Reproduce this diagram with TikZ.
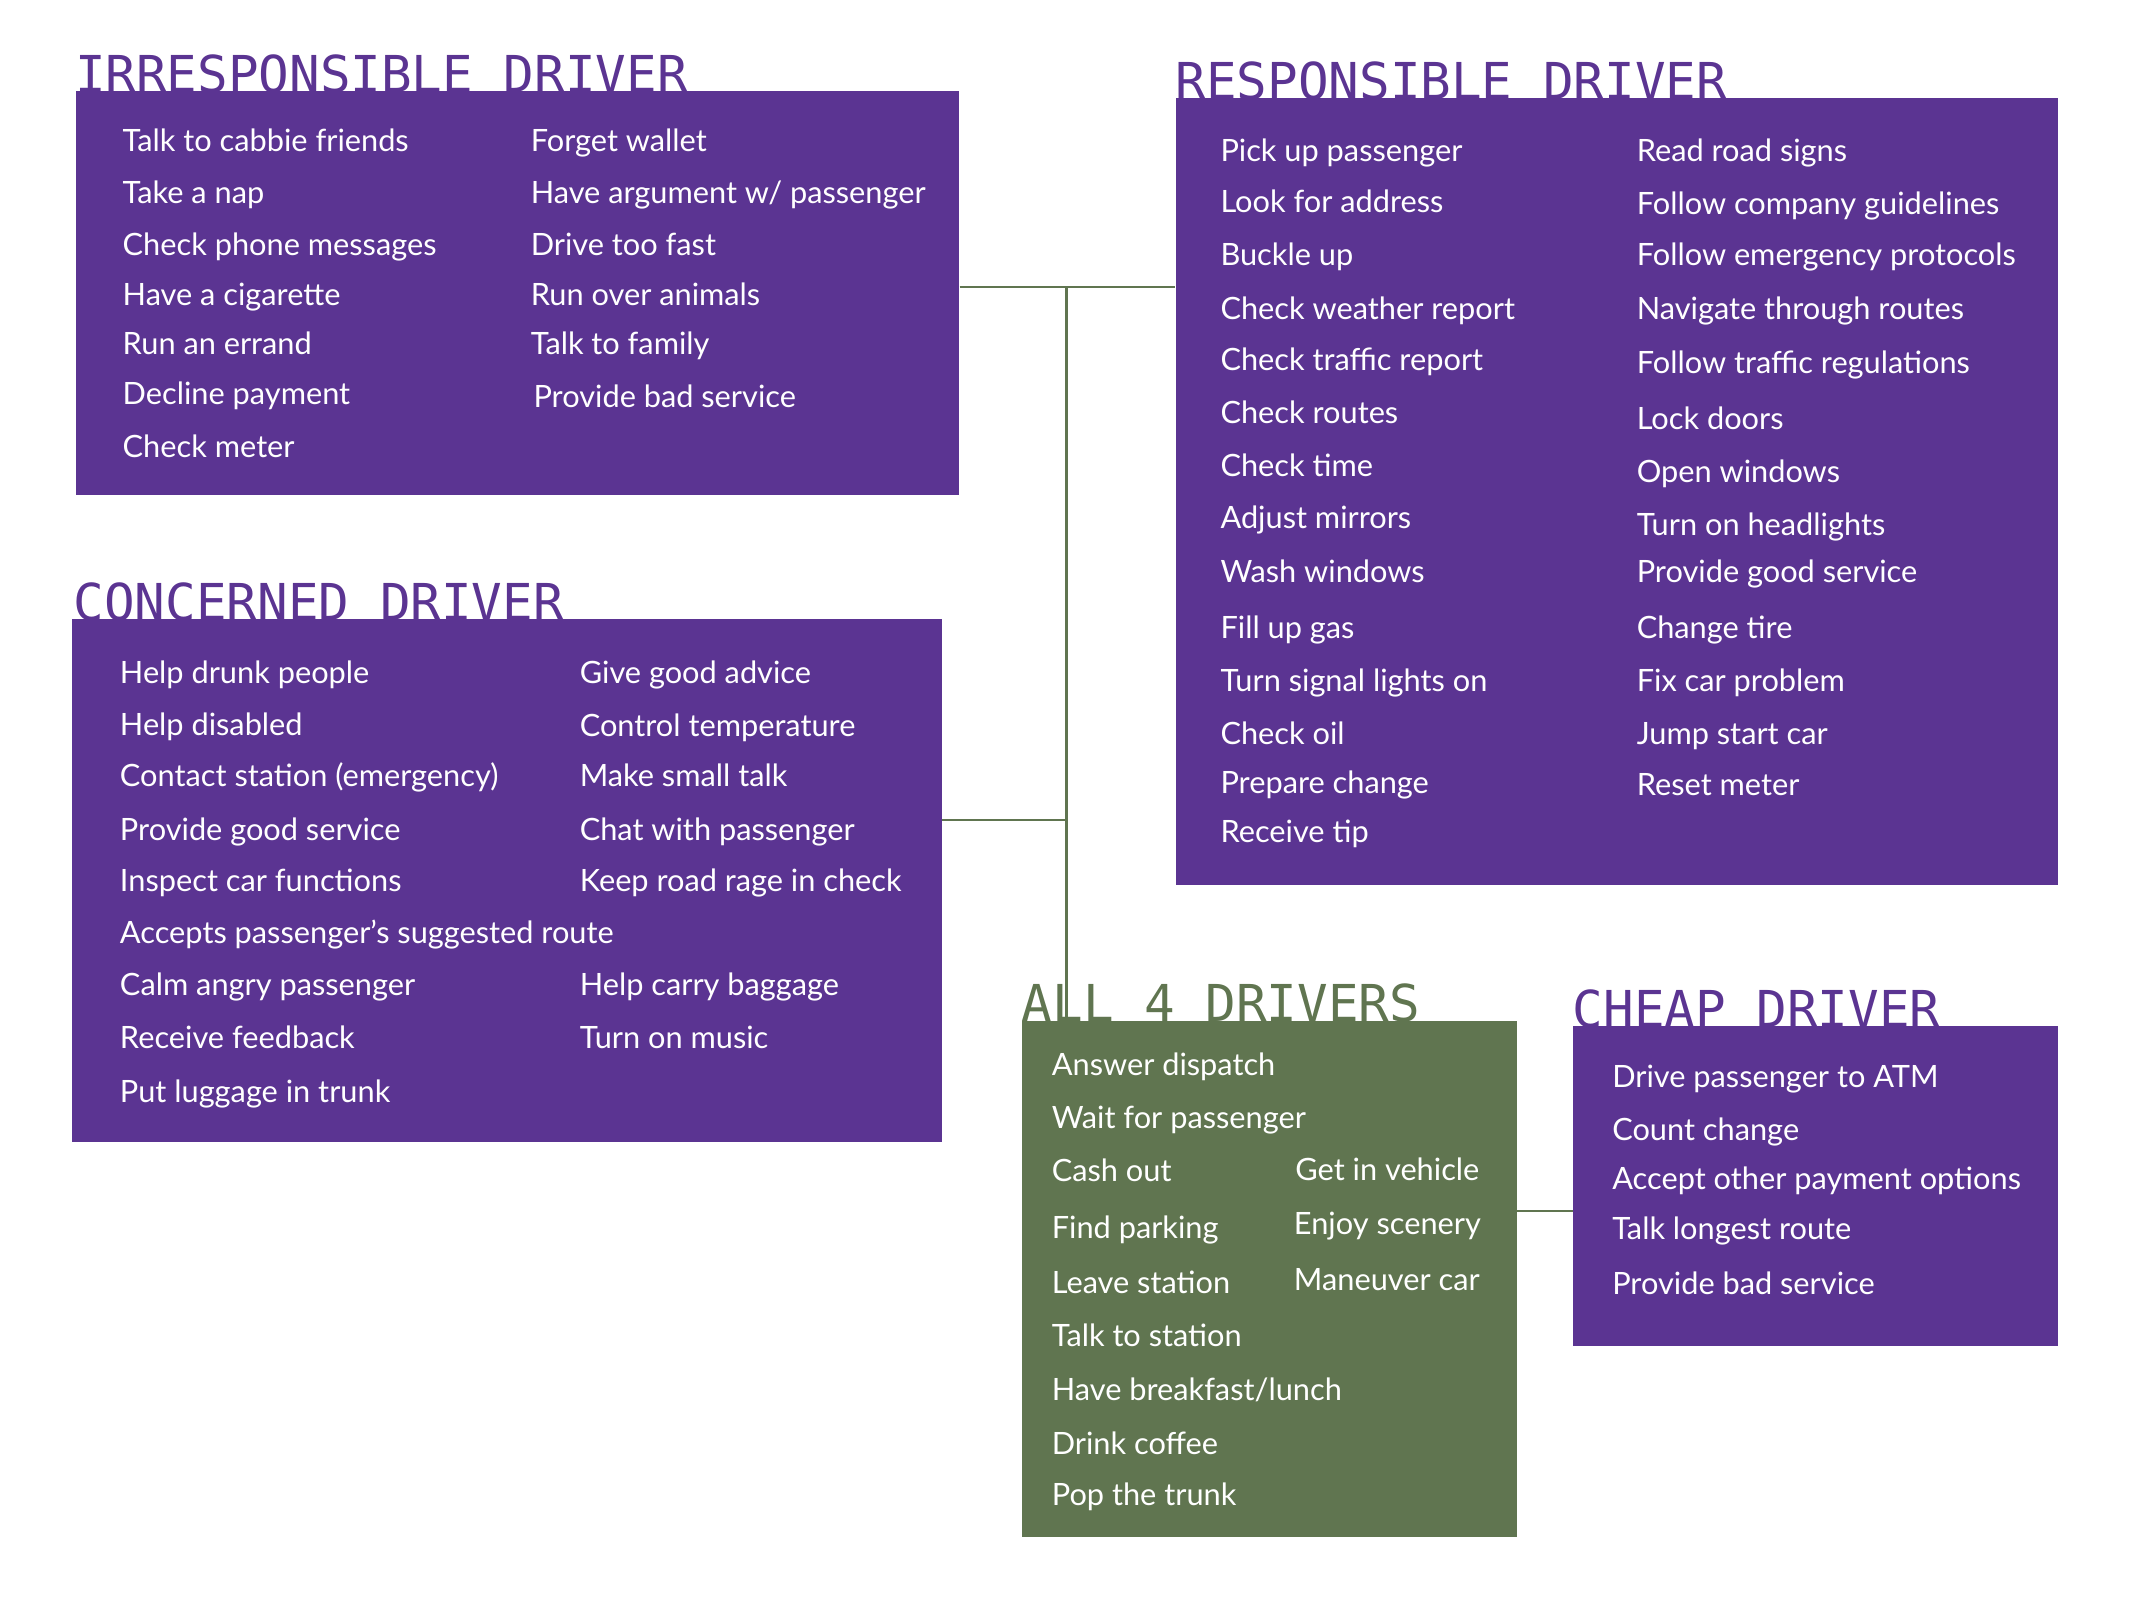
\documentclass[tikz,border=0pt]{standalone}
\usepackage{fontspec}
\setmainfont{Lato}
\newfontfamily\titlefont{DejaVu Sans Mono}
\definecolor{purp}{HTML}{5B3492}
\definecolor{grn}{HTML}{607550}
\tikzset{
  pbox/.style={fill=purp, draw=none, anchor=north west, inner sep=0pt},
  gbox/.style={fill=grn, draw=none, anchor=north west, inner sep=0pt},
  ttl/.style={anchor=base west, inner sep=0pt, font=\titlefont\fontsize{37.4}{38}\selectfont},
  txt/.style={anchor=base west, inner sep=0pt, text=white, font=\fontsize{22.6}{24}\selectfont},
  conn/.style={draw=grn, line width=1.6pt}
}
\newcommand{\T}[4]{\node[txt] (#1) at (#2,#3+7.5) {#4};}
\begin{document}
\begin{tikzpicture}[x=1pt,y=-1pt]
\useasboundingbox (0,0) rectangle (1568,1176);
% boxes
\node[pbox, minimum width=649pt, minimum height=297pt] (irr) at (56,67) {};
\node[pbox, minimum width=649pt, minimum height=578pt] (resp) at (864,72) {};
\node[pbox, minimum width=639pt, minimum height=384pt] (conc) at (53,455) {};
\node[gbox, minimum width=364pt, minimum height=380pt] (all) at (751,750) {};
\node[pbox, minimum width=357pt, minimum height=235pt] (cheap) at (1156,754) {};
% titles
\node[ttl, text=purp] (tirr) at (55,68) {IRRESPONSIBLE DRIVER};
\node[ttl, text=purp] (tresp) at (864,73) {RESPONSIBLE DRIVER};
\node[ttl, text=purp] (tconc) at (54,456) {CONCERNED DRIVER};
\node[ttl, text=grn] (tall) at (751,751) {ALL 4 DRIVERS};
\node[ttl, text=purp] (tcheap) at (1156,755) {CHEAP DRIVER};
% connectors
\coordinate (j1) at (784,211);
\coordinate (j2) at (784,603);
\coordinate (j3) at (1135,890);
\draw[conn] (irr.east |- j1) -- (resp.west |- j1);
\draw[conn] (j1) -- (all.north -| j1);
\draw[conn] (conc.east |- j2) -- (j2);
\draw[conn] (all.east |- j3) -- (cheap.west |- j3);
% irresponsible
\T{a1}{90}{104}{Talk to cabbie friends}
\T{a2}{90}{142}{Take a nap}
\T{a3}{90}{180}{Check phone messages}
\T{a4}{90}{217}{Have a cigarette}
\T{a5}{90}{253}{Run an errand}
\T{a6}{90}{290}{Decline payment}
\T{a7}{90}{329}{Check meter}
\T{b1}{390}{104}{Forget wallet}
\T{b2}{390}{142}{Have argument w/ passenger}
\T{b3}{390}{180}{Drive too fast}
\T{b4}{390}{217}{Run over animals}
\T{b5}{390}{253}{Talk to family}
\T{b6}{392}{292}{Provide bad service}
% responsible
\T{c1}{897}{111}{Pick up passenger}
\T{c2}{897}{149}{Look for address}
\T{c3}{897}{188}{Buckle up}
\T{c4}{897}{227}{Check weather report}
\T{c5}{897}{265}{Check traffic report}
\T{c6}{897}{304}{Check routes}
\T{c7}{897}{343}{Check time}
\T{c8}{897}{381}{Adjust mirrors}
\T{c9}{897}{421}{Wash windows}
\T{c10}{897}{462}{Fill up gas}
\T{c11}{897}{501}{Turn signal lights on}
\T{c12}{897}{540}{Check oil}
\T{c13}{897}{576}{Prepare change}
\T{c14}{897}{612}{Receive tip}
\T{d1}{1203}{111}{Read road signs}
\T{d2}{1203}{150}{Follow company guidelines}
\T{d3}{1203}{188}{Follow emergency protocols}
\T{d4}{1203}{227}{Navigate through routes}
\T{d5}{1203}{267}{Follow traffic regulations}
\T{d6}{1203}{308}{Lock doors}
\T{d7}{1203}{347}{Open windows}
\T{d8}{1203}{386}{Turn on headlights}
\T{d9}{1203}{421}{Provide good service}
\T{d10}{1203}{462}{Change tire}
\T{d11}{1203}{501}{Fix car problem}
\T{d12}{1203}{540}{Jump start car}
\T{d13}{1203}{577}{Reset meter}
% concerned
\T{e1}{88}{495}{Help drunk people}
\T{e2}{88}{533}{Help disabled}
\T{e3}{88}{571}{Contact station (emergency)}
\T{e4}{88}{610}{Provide good service}
\T{e5}{88}{648}{Inspect car functions}
\T{e6}{88}{686}{Accepts passenger’s suggested route}
\T{e7}{88}{724}{Calm angry passenger}
\T{e8}{88}{763}{Receive feedback}
\T{e9}{88}{803}{Put luggage in trunk}
\T{f1}{426}{495}{Give good advice}
\T{f2}{426}{534}{Control temperature}
\T{f3}{426}{571}{Make small talk}
\T{f4}{426}{610}{Chat with passenger}
\T{f5}{426}{648}{Keep road rage in check}
\T{f6}{426}{724}{Help carry baggage}
\T{f7}{426}{763}{Turn on music}
% all 4
\T{g1}{773}{783}{Answer dispatch}
\T{g2}{773}{822}{Wait for passenger}
\T{g3}{773}{861}{Cash out}
\T{g4}{773}{903}{Find parking}
\T{g5}{773}{943}{Leave station}
\T{g6}{773}{982}{Talk to station}
\T{g7}{773}{1022}{Have breakfast/lunch}
\T{g8}{773}{1062}{Drink coffee}
\T{g9}{773}{1099}{Pop the trunk}
\T{h1}{952}{860}{Get in vehicle}
\T{h2}{951}{900}{Enjoy scenery}
\T{h3}{951}{941}{Maneuver car}
% cheap
\T{k1}{1185}{792}{Drive passenger to ATM}
\T{k2}{1185}{831}{Count change}
\T{k3}{1185}{867}{Accept other payment options}
\T{k4}{1185}{904}{Talk longest route}
\T{k5}{1185}{944}{Provide bad service}
\end{tikzpicture}
\end{document}
